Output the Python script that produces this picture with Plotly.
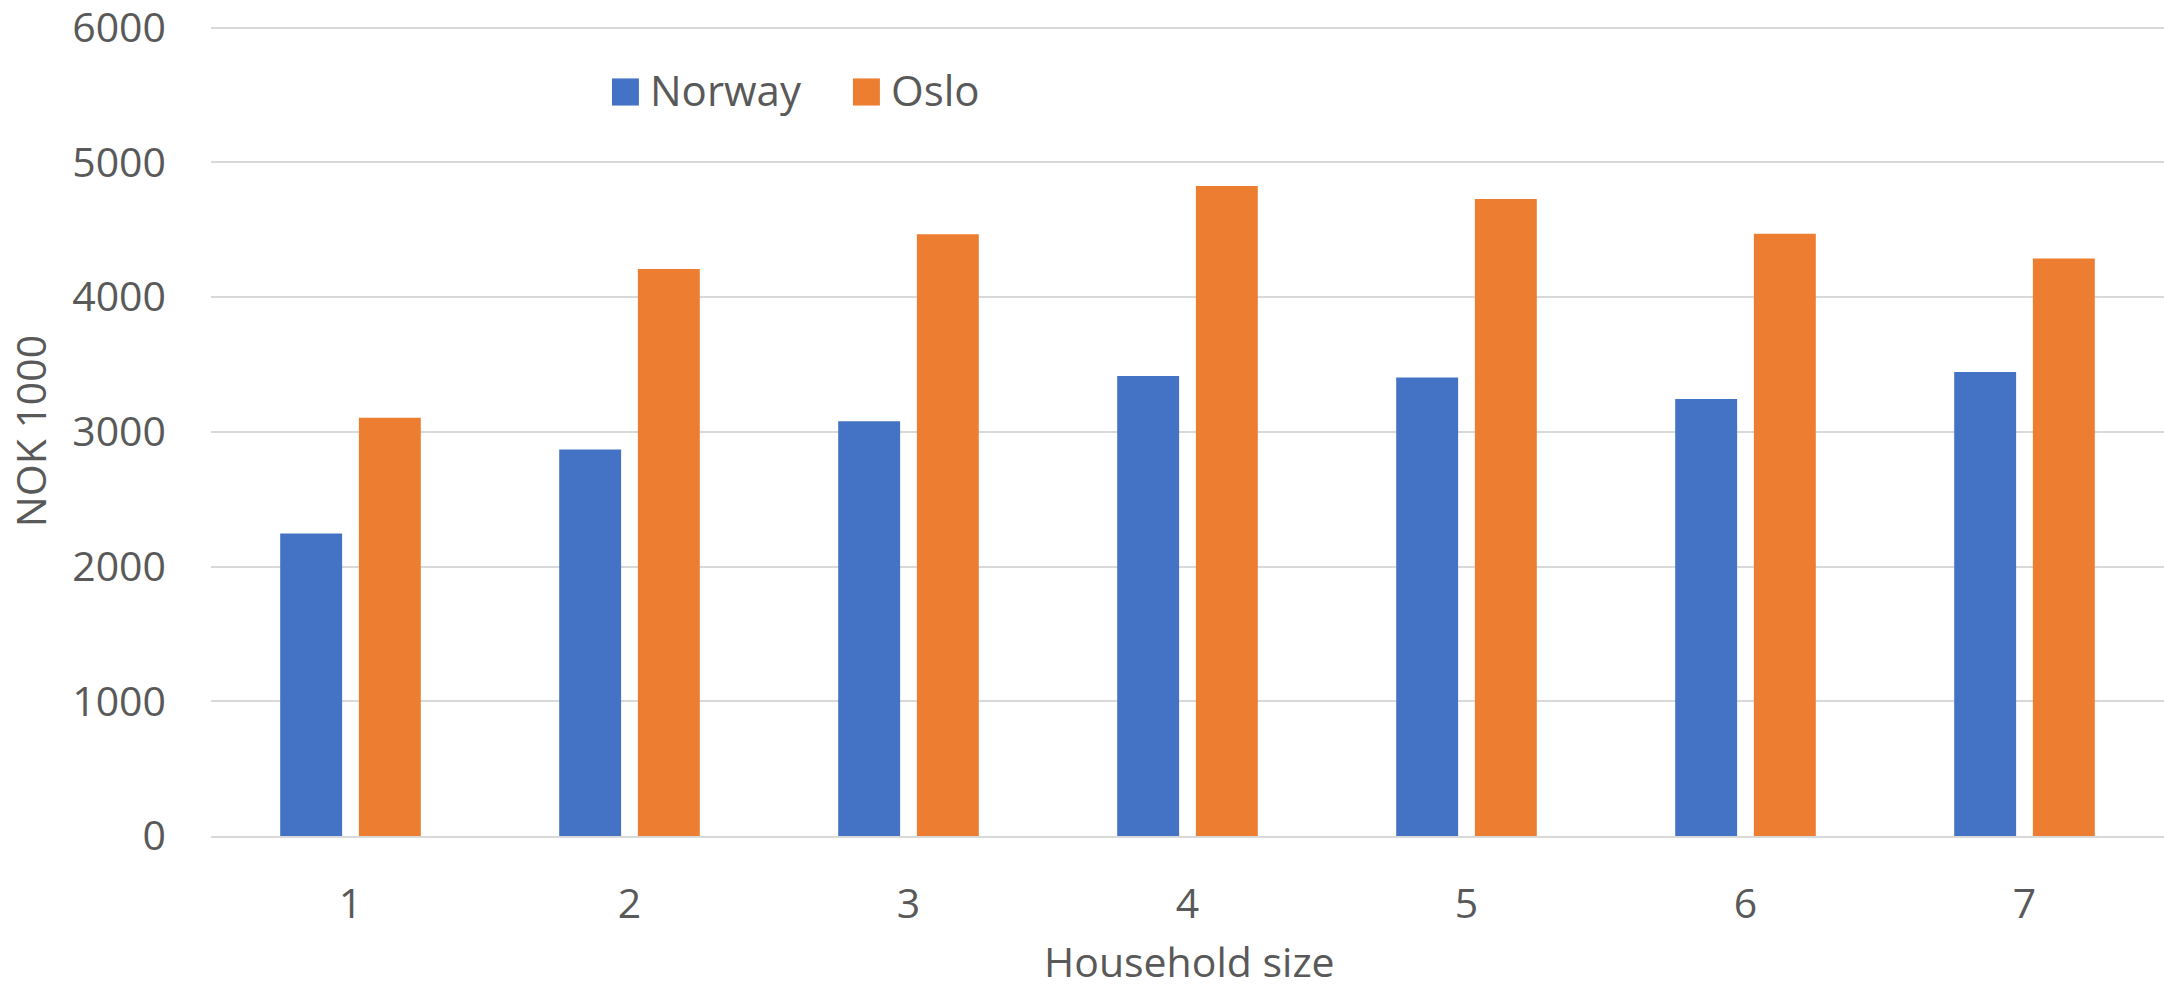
import plotly.graph_objects as go

# Household size categories and median wealth (NOK 1000)
household_size = ["1", "2", "3", "4", "5", "6", "7"]
norway = [2245, 2869, 3079, 3414, 3404, 3243, 3443]
oslo = [3104, 4208, 4466, 4824, 4728, 4470, 4287]

series_names = ["Norway", "Oslo"]
colors = ["#4472C4", "#ED7D31"]

y_ticks = [0, 1000, 2000, 3000, 4000, 5000, 6000]

FONT = "Open Sans"
TEXT_COLOR = "#595959"
GRID_COLOR = "#d9d9d9"

fig = go.Figure()
for name, values, color in zip(series_names, [norway, oslo], colors):
    fig.add_trace(go.Bar(
        x=household_size, y=values, name=name,
        marker=dict(color=color, line=dict(width=0)),
        showlegend=False,
    ))

# Legend: square swatches with labels across the top of the plot
legend_items = [
    (0.2053, 0.2191, 0.2240),
    (0.3287, 0.3425, 0.3472),
]
for (x0, x1, tx), name, color in zip(legend_items, series_names, colors):
    fig.add_shape(type="rect", xref="paper", yref="paper",
                  x0=x0, x1=x1, y0=0.9018, y1=0.9353,
                  fillcolor=color, line=dict(width=0))
    fig.add_annotation(xref="paper", yref="paper", x=tx, y=0.9216,
                       xanchor="left", yanchor="middle", showarrow=False,
                       text=name, font=dict(family=FONT, size=42, color=TEXT_COLOR))

# x-axis title placed below the tick labels
fig.add_annotation(xref="paper", yref="paper", x=0.5008, y=-0.1545,
                   xanchor="center", yanchor="middle", showarrow=False,
                   text="Household size",
                   font=dict(family=FONT, size=41, color=TEXT_COLOR))

fig.update_layout(
    width=2164, height=985,
    margin=dict(l=211, r=0, t=26, b=149),
    paper_bgcolor="white", plot_bgcolor="white",
    barmode="group", bargap=0.436, bargroupgap=0.213,
    font=dict(family=FONT, size=41, color=TEXT_COLOR),
    xaxis=dict(
        showline=True, linecolor=GRID_COLOR, linewidth=2,
        showgrid=False, ticks="", ticklabelstandoff=31,
        tickfont=dict(size=41), automargin=False,
    ),
    yaxis=dict(
        title=dict(text="NOK 1000", font=dict(size=41), standoff=12),
        range=[0, 6012], tickvals=y_ticks,
        showgrid=True, gridcolor=GRID_COLOR, gridwidth=2,
        zeroline=False, showline=False, ticks="",
        ticklabelstandoff=44, ticklabeloverflow="allow",
        tickfont=dict(size=41), automargin=False,
    ),
)

fig.write_html("out.html")
